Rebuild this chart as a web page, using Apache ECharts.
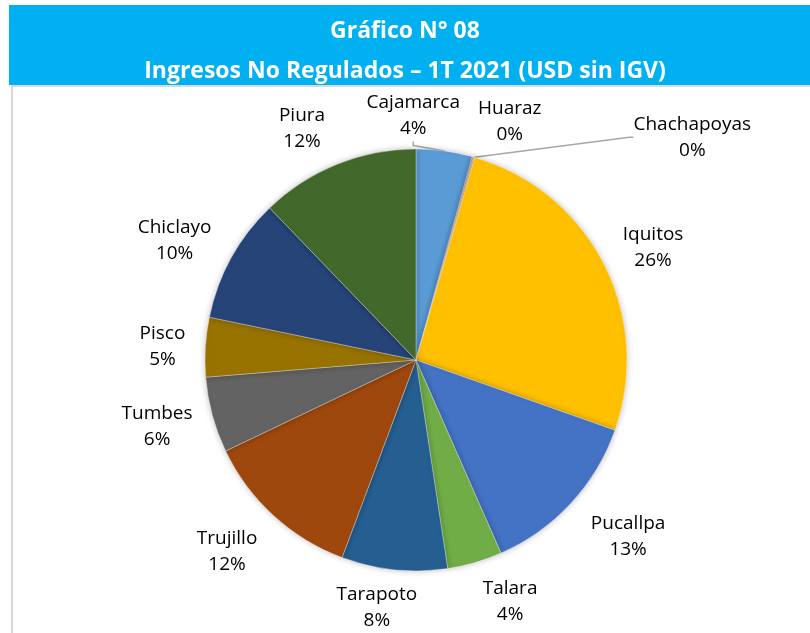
<!DOCTYPE html>
<html>
<head>
<meta charset="utf-8">
<script src="https://cdn.jsdelivr.net/npm/echarts@6/dist/echarts.min.js"></script>
<style>
html,body{margin:0;padding:0;background:#fff;}
#chart{width:810px;height:633px;}
</style>
</head>
<body>
<div id="chart"></div>
<script>
// ---- data ----
const categories = ['Cajamarca','Huaraz','Chachapoyas','Iquitos','Pucallpa','Talara','Tarapoto','Trujillo','Tumbes','Pisco','Chiclayo','Piura'];
const shares = [4.3, 0.1, 0.1, 25.9, 13.0, 4.2, 8.1, 12.2, 5.8, 4.55, 9.55, 12.2];
const titleLine1 = 'Gráfico N° 08';
const titleLine2 = 'Ingresos No Regulados – 1T 2021 (USD sin IGV)';

// ---- styling ----
const colors = ['#5B9BD5','#ED7D31','#A5A5A5','#FFC000','#4472C4','#70AD47','#255E91','#9E480E','#636363','#997300','#264478','#43682B'];
const CX = 416, CY = 360, R = 211, LABEL_DIST = 262;
const labelNudge = {
  Cajamarca:[-38,15], Huaraz:[23,14], Chachapoyas:[204,29], Iquitos:[4,7],
  Pucallpa:[20,-2], Talara:[21,-10], Tarapoto:[-12,-13], Trujillo:[-12,-2],
  Tumbes:[-6,-2], Pisco:[8,3], Chiclayo:[-12,7], Piura:[-16,12]
};
const withLine = {Cajamarca:true, Chachapoyas:true};

const total = shares.reduce((a,b)=>a+b,0);
const midAngles = [];
{ let acc = 0; shares.forEach(v => { midAngles.push((acc + v/2)/total*2*Math.PI); acc += v; }); }

const chart = echarts.init(document.getElementById('chart'), null, {renderer:'canvas'});
const option = {
  animation:false,
  backgroundColor:'#ffffff',
  graphic:[
    {type:'rect', shape:{x:9,y:5,width:801,height:80}, style:{fill:'#00B0F0'}, z:0},
    {type:'line', shape:{x1:11,y1:86,x2:810,y2:86}, style:{stroke:'#d9d9d9',lineWidth:2}, z:0},
    {type:'line', shape:{x1:12,y1:86,x2:12,y2:633}, style:{stroke:'#d9d9d9',lineWidth:2}, z:0}
  ],
  title:[
    {text:titleLine1, left:'center', top:15, textStyle:{color:'#fff', fontFamily:'Open Sans', fontWeight:'bold', fontSize:23}},
    {text:titleLine2, left:'center', top:55, textStyle:{color:'#fff', fontFamily:'Open Sans', fontWeight:'bold', fontSize:23}}
  ],
  series:[{
    type:'pie',
    center:[CX, CY],
    radius:R,
    startAngle:90,
    clockwise:true,
    avoidLabelOverlap:false,
    minShowLabelAngle:0,
    itemStyle:{borderColor:'rgba(255,255,255,0.55)', borderWidth:0.6, shadowBlur:6, shadowColor:'rgba(0,0,0,0.25)'},
    label:{
      show:true, position:'outside',
      fontFamily:'Open Sans', fontSize:19, lineHeight:26, color:'#000',
      align:'center',
      formatter: p => p.name + '\n' + Math.round(p.percent) + '%'
    },
    labelLine:{show:false},
    labelLayout: function(params){
      const i = params.dataIndex;
      const a = midAngles[i];
      const n = labelNudge[categories[i]] || [0,0];
      return {
        x: CX + LABEL_DIST*Math.sin(a) + n[0],
        y: CY - LABEL_DIST*Math.cos(a) + n[1],
        align:'center', verticalAlign:'middle'
      };
    },
    data: categories.map((c,i)=>({
      name:c, value:shares[i],
      itemStyle:{color:colors[i]},
      labelLine: withLine[c] ? {show:true, length:10, length2:4, smooth:false, lineStyle:{color:'#a6a6a6', width:1.5}} : {show:false}
    }))
  }]
};
chart.setOption(option);
</script>
</body>
</html>
